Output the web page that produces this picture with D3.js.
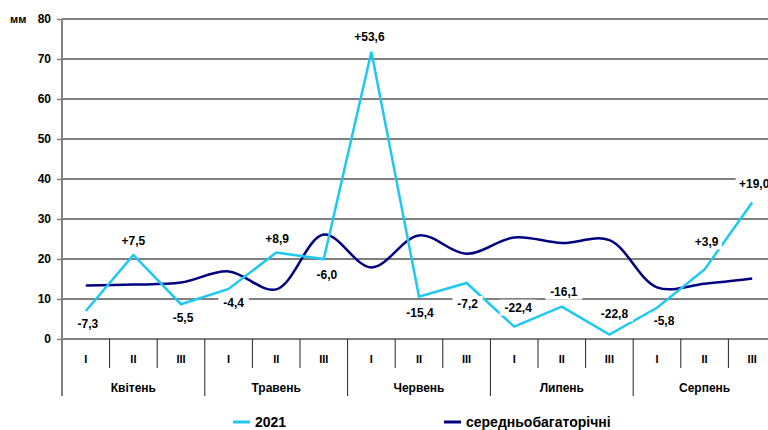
<!DOCTYPE html>
<html>
<head>
<meta charset="utf-8">
<script src="https://cdn.jsdelivr.net/npm/d3@7"></script>
<style>
  body { margin: 0; background: #fff; }
  svg { font-family: "Liberation Sans", Arial, sans-serif; font-weight: bold; }
</style>
</head>
<body>
<svg id="chart" width="768" height="430"></svg>
<script>
// data
const months = ["Квітень", "Травень", "Червень", "Липень", "Серпень"];
const decades = ["I", "II", "III"];
const rain2021 = [7.0, 21.0, 8.7, 12.5, 21.6, 20.0, 71.8, 10.6, 14.0, 3.1, 8.1, 1.1, 7.8, 17.4, 34.1];
const rainMean = [13.4, 13.6, 14.1, 16.9, 12.4, 26.1, 17.9, 25.9, 21.3, 25.4, 24.0, 24.7, 12.9, 13.8, 15.1];
const deviations = ["-7,3", "+7,5", "-5,5", "-4,4", "+8,9", "-6,0", "+53,6", "-15,4", "-7,2", "-22,4", "-16,1", "-22,8", "-5,8", "+3,9", "+19,0"];
const yTicks = [0, 10, 20, 30, 40, 50, 60, 70, 80];
// label offsets from the point [dx, dy]
const labelOffsets = [[2, 13], [0, -14], [2, 14], [5, 14], [1, -14], [3, 16], [-2, -15], [1, 16], [1, 21],
                      [4, -19], [2, -15], [5, -21], [7, 13], [2, -28], [2, -19]];

const svg = d3.select("#chart");
const plotLeft = 62, plotTop = 19, plotBottom = 339, band = 47.6;
const labels = d3.range(months.length * decades.length);

const x = d3.scaleBand().domain(labels).range([plotLeft, plotLeft + band * labels.length]);
const y = d3.scaleLinear().domain([0, 80]).range([plotBottom, plotTop]);
const cx = i => x(i) + x.bandwidth() / 2;

// grid lines
svg.append("g")
    .selectAll("line")
    .data(yTicks.filter(d => d > 0 && d < 80))
    .enter().append("line")
      .attr("x1", plotLeft).attr("x2", x.range()[1])
      .attr("y1", d => y(d)).attr("y2", d => y(d))
      .attr("stroke", "#000").attr("stroke-width", 1);

// top border
svg.append("line")
    .attr("x1", plotLeft).attr("x2", x.range()[1])
    .attr("y1", y(80)).attr("y2", y(80))
    .attr("stroke", "#808080").attr("stroke-width", 2);

// y axis
const yAxis = svg.append("g")
    .attr("transform", `translate(${plotLeft},0)`)
    .call(d3.axisLeft(y).tickValues(yTicks).tickSize(5).tickPadding(6).tickFormat(d3.format("d")));
yAxis.select(".domain").remove();
yAxis.selectAll(".tick line").attr("stroke", "#808080").attr("stroke-width", 1.5);
yAxis.selectAll(".tick text")
    .attr("font-size", 12).attr("font-weight", "bold")
    .attr("font-family", "Liberation Sans, Arial, sans-serif").attr("fill", "#000");

svg.append("line")
    .attr("x1", plotLeft).attr("x2", plotLeft)
    .attr("y1", plotTop).attr("y2", 396)
    .attr("stroke", "#808080").attr("stroke-width", 2);

svg.append("text")
    .attr("x", 10).attr("y", 23)
    .attr("font-size", 11)
    .text("мм");

// category axis
svg.append("line")
    .attr("x1", plotLeft).attr("x2", x.range()[1])
    .attr("y1", plotBottom).attr("y2", plotBottom)
    .attr("stroke", "#808080").attr("stroke-width", 2);

svg.append("g")
    .selectAll("line")
    .data(labels.slice(1))
    .enter().append("line")
      .attr("x1", d => x(d)).attr("x2", d => x(d))
      .attr("y1", plotBottom).attr("y2", d => d % 3 === 0 ? 396 : 368)
      .attr("stroke", "#222").attr("stroke-width", 1);

svg.append("g")
    .selectAll("text")
    .data(labels)
    .enter().append("text")
      .attr("x", d => cx(d)).attr("y", 363)
      .attr("text-anchor", "middle")
      .attr("font-size", 11)
      .text(d => decades[d % 3]);

svg.append("g")
    .selectAll("text")
    .data(months)
    .enter().append("text")
      .attr("x", (d, i) => cx(i * 3 + 1)).attr("y", 392)
      .attr("text-anchor", "middle")
      .attr("font-size", 12)
      .text(d => d);

// lines
svg.append("path")
    .datum(rainMean)
    .attr("fill", "none")
    .attr("stroke", "#000080")
    .attr("stroke-width", 2.5)
    .attr("d", d3.line()
      .x((d, i) => cx(i))
      .y(d => y(d))
      .curve(d3.curveCatmullRom.alpha(0.5)));

svg.append("path")
    .datum(rain2021)
    .attr("fill", "none")
    .attr("stroke", "#1ec8f2")
    .attr("stroke-width", 2.5)
    .attr("d", d3.line()
      .x((d, i) => cx(i))
      .y(d => y(d)));

// deviation labels with white boxes
const lab = svg.append("g")
    .selectAll("g")
    .data(deviations)
    .enter().append("g")
      .attr("transform", (d, i) => `translate(${cx(i) + labelOffsets[i][0]},${y(rain2021[i]) + labelOffsets[i][1]})`);

lab.append("rect")
    .attr("x", d => -d.length * 3.3 - 2)
    .attr("y", -8)
    .attr("width", d => d.length * 6.6 + 4)
    .attr("height", 16)
    .attr("fill", "#fff");

lab.append("text")
    .attr("text-anchor", "middle")
    .attr("dy", "0.35em")
    .attr("font-size", 12)
    .text(d => d);

// legend
const legend = [["2021", "#1ec8f2", 233], ["середньобагаторічні", "#000080", 444]];
const lg = svg.append("g")
    .selectAll("g")
    .data(legend)
    .enter().append("g")
      .attr("transform", d => `translate(${d[2]},422)`);

lg.append("line")
    .attr("x1", 0).attr("x2", 17)
    .attr("stroke", d => d[1]).attr("stroke-width", 3);

lg.append("text")
    .attr("x", 22).attr("y", 5)
    .attr("font-size", 14)
    .text(d => d[0]);
</script>
</body>
</html>
